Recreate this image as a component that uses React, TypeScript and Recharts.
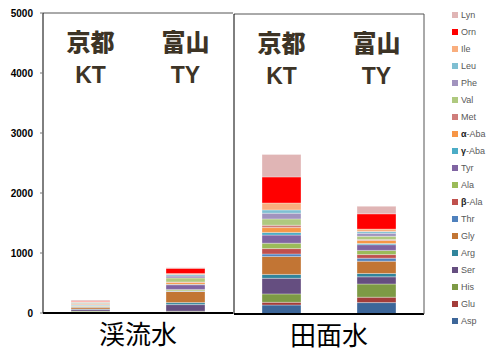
import React from 'react'
import { BarChart, Bar, Line, XAxis, YAxis, Legend } from 'recharts'

// stacking order, bottom to top
const aminos = [
  'Asp', 'Glu', 'His', 'Ser', 'Arg', 'Gly', 'Thr', 'β-Ala', 'Ala', 'Tyr',
  'γ-Aba', 'α-Aba', 'Met', 'Val', 'Phe', 'Leu', 'Ile', 'Orn', 'Lyn'
]
const colors = [
  '#3d6699', '#a33c3a', '#7d9a45', '#654e80', '#31859c', '#c27534', '#4f81bd', '#c0504d', '#9bbb59', '#8064a2',
  '#4bacc6', '#f79646', '#cf7d7b', '#afc97f', '#a193be', '#7fbfd2', '#f9ae7e', '#ff0000', '#e0b5b5'
]

const sites = ['KT', 'TY']
const cities = ['京都', '富山']
const waters = ['渓流水', '田面水']

// values per amino acid: [渓流水 KT, 渓流水 TY, 田面水 KT, 田面水 TY]
const Asp = [15, 10, 150, 190]
const Glu = [7, 10, 45, 90]
const His = [10, 10, 140, 220]
const Ser = [30, 110, 260, 120]
const Arg = [5, 33, 65, 55]
const Gly = [30, 185, 300, 205]
const Thr = [5, 8, 40, 50]
const bAla = [5, 5, 90, 60]
const Ala = [8, 22, 90, 70]
const Tyr = [12, 78, 135, 95]
const gAba = [5, 8, 45, 20]
const aAba = [15, 33, 80, 50]
const Met = [5, 5, 40, 15]
const Val = [12, 67, 105, 55]
const Phe = [8, 33, 95, 50]
const Leu = [8, 25, 55, 30]
const Ile = [10, 15, 115, 40]
const Orn = [10, 88, 435, 255]
const Lyn = [15, 8, 375, 125]

const series = [Asp, Glu, His, Ser, Arg, Gly, Thr, bAla, Ala, Tyr, gAba, aAba, Met, Val, Phe, Leu, Ile, Orn, Lyn]

const yTicks = [0, 1000, 2000, 3000, 4000, 5000]

const font = "'Liberation Sans', Arial, 'Noto Sans CJK JP', sans-serif"
const cjk = "'Noto Sans CJK JP', sans-serif"

const buildPanel = (panel: number) =>
  sites.map((site, i) => {
    const row: Record<string, any> = { site }
    aminos.forEach((name, k) => {
      row[name] = series[k][panel * 2 + i]
    })
    return row
  })

const SiteTick = (props: any) => {
  const { x, y, payload } = props
  return (
    <g>
      <text x={x} y={y + 38} textAnchor="middle" fontSize={24} fontWeight={900} fill="#3d3426" fontFamily={cjk}>
        {cities[payload.index]}
      </text>
      <text x={x} y={y + 70} textAnchor="middle" fontSize={23} fontWeight={700} fill="#3d3426" fontFamily={font}>
        {payload.value}
      </text>
    </g>
  )
}

const renderLegend = (props: any) => {
  const payload = props.payload || []
  const items = aminos
    .slice()
    .reverse()
    .map((name) => payload.find((p: any) => p.value === name))
    .filter(Boolean)
  return (
    <div style={{ paddingLeft: 26, fontFamily: font }}>
      {items.map((it: any) => {
        const v: string = it.value
        const greek = /^[αβγ]/.test(v)
        return (
          <div key={v} style={{ height: 17, display: 'flex', alignItems: 'center', fontSize: 9, color: '#595959' }}>
            <span style={{ width: 6, height: 6, background: it.color, marginRight: 3, display: 'inline-block' }} />
            {greek ? (
              <span>
                <b style={{ color: '#222' }}>{v[0]}</b>
                {v.slice(1)}
              </span>
            ) : (
              v
            )}
          </div>
        )
      })}
    </div>
  )
}

const bars = () =>
  aminos.map((name, k) => (
    <Bar
      key={name}
      dataKey={name}
      stackId="a"
      fill={colors[k]}
      stroke="rgba(255,255,255,0.4)"
      strokeWidth={0.8}
      barSize={39}
      isAnimationActive={false}
    />
  ))

const topAxis = () => (
  <XAxis
    xAxisId="top"
    dataKey="site"
    orientation="top"
    height={1}
    tickSize={0}
    tickMargin={0}
    tick={<SiteTick />}
    tickLine={false}
    axisLine={{ stroke: '#555' }}
  />
)

export default function App() {
  return (
    <div style={{ position: 'absolute', left: 0, top: 0, width: 488, height: 351, overflow: 'hidden', background: '#fff' }}>
      <div style={{ position: 'absolute', left: 0, top: 0 }}>
        <BarChart width={240} height={351} data={buildPanel(0)} margin={{ top: 12, right: 7, left: 0, bottom: 0 }}>
          <XAxis
            dataKey="site"
            height={38}
            tick={false}
            tickLine={false}
            axisLine={{ stroke: '#000', strokeWidth: 2 }}
            label={{ value: waters[0], position: 'insideBottom', offset: 7, fontSize: 26, fill: '#000', fontFamily: cjk }}
          />
          {topAxis()}
          <YAxis
            width={43}
            domain={[0, 5000]}
            ticks={yTicks}
            interval={0}
            tickSize={3}
            tickMargin={7}
            tick={{ fontSize: 10, fontWeight: 700, fill: '#000', fontFamily: font }}
            tickLine={{ stroke: '#777' }}
            axisLine={{ stroke: '#000' }}
          />
          {bars()}
          <Line
            xAxisId="top"
            dataKey="Asp"
            stroke="none"
            dot={false}
            activeDot={false}
            legendType="none"
            isAnimationActive={false}
          />
        </BarChart>
      </div>
      <div style={{ position: 'absolute', left: 228, top: 0 }}>
        <BarChart width={260} height={351} data={buildPanel(1)} margin={{ top: 13, right: 0, left: 0, bottom: 0 }}>
          <XAxis
            dataKey="site"
            height={37}
            tick={false}
            tickLine={false}
            axisLine={{ stroke: '#000', strokeWidth: 2 }}
            label={{ value: waters[1], position: 'insideBottom', offset: 6, fontSize: 26, fill: '#000', fontFamily: cjk }}
          />
          {topAxis()}
          <YAxis
            width={6}
            domain={[0, 5000]}
            ticks={yTicks}
            interval={0}
            tickSize={3}
            tick={false}
            tickLine={{ stroke: '#777' }}
            axisLine={{ stroke: '#000' }}
          />
          <YAxis
            yAxisId="r"
            orientation="right"
            width={2}
            domain={[0, 5000]}
            tick={false}
            tickLine={false}
            axisLine={{ stroke: '#555' }}
          />
          <Legend
            layout="vertical"
            align="right"
            verticalAlign="top"
            width={62}
            wrapperStyle={{ top: 6 }}
            content={renderLegend}
          />
          {bars()}
          <Line
            xAxisId="top"
            yAxisId="r"
            dataKey="Asp"
            stroke="none"
            dot={false}
            activeDot={false}
            legendType="none"
            isAnimationActive={false}
          />
        </BarChart>
      </div>
    </div>
  )
}
